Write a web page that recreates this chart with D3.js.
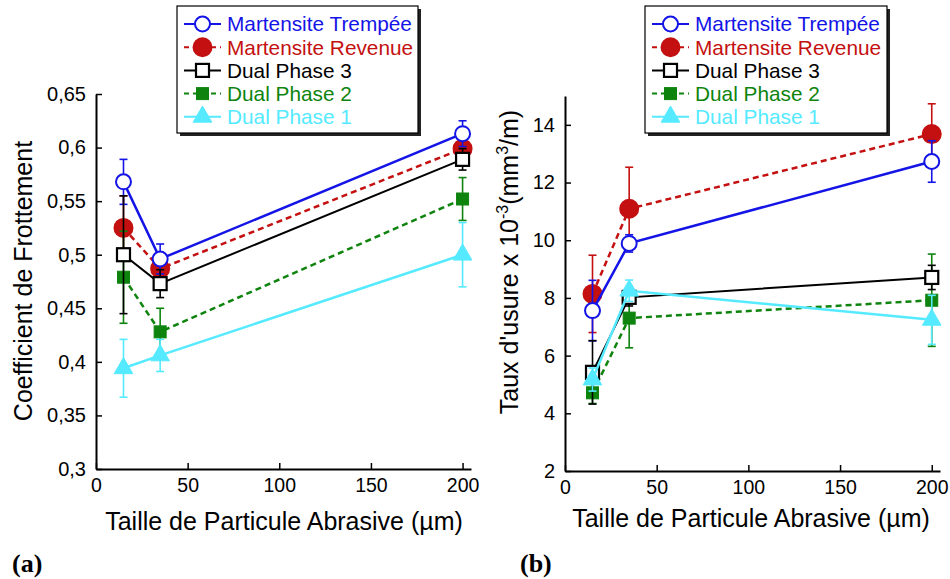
<!DOCTYPE html>
<html>
<head>
<meta charset="utf-8">
<script src="https://cdn.jsdelivr.net/npm/d3@7"></script>
<style>
  body { margin: 0; background: #fff; }
  svg { display: block; font-family: "Liberation Sans", Arial, sans-serif; }
</style>
</head>
<body>
<svg id="chart" width="950" height="579"></svg>
<script>
// particle sizes (x) shared by both panels
var sizes = [15, 35, 200];
var xTicks = [0, 50, 100, 150, 200];

// series names, drawn in this order (last on top)
var names = ["Martensite Trempée", "Martensite Revenue", "Dual Phase 3", "Dual Phase 2", "Dual Phase 1"];
var drawOrder = [1, 3, 0, 2, 4];

// (a) coefficient de frottement
var frictionMT = [0.568, 0.496, 0.613];
var frictionMTErr = [0.021, 0.014, 0.012];
var frictionMR = [0.525, 0.487, 0.599];
var frictionMRErr = [0.030, 0.010, 0.012];
var frictionDP3 = [0.500, 0.473, 0.589];
var frictionDP3Err = [0.055, 0.013, 0.010];
var frictionDP2 = [0.479, 0.428, 0.552];
var frictionDP2Err = [0.043, 0.022, 0.020];
var frictionDP1 = [0.394, 0.406, 0.500];
var frictionDP1Err = [0.027, 0.015, 0.030];
var frictionTicks = [0.3, 0.35, 0.4, 0.45, 0.5, 0.55, 0.6, 0.65];

// (b) taux d'usure x 10^-3 mm3/m
var wearMT = [7.56, 9.89, 12.73];
var wearMTErr = [1.05, 0.30, 0.72];
var wearMR = [8.14, 11.09, 13.68];
var wearMRErr = [1.34, 1.44, 1.05];
var wearDP3 = [5.42, 8.02, 8.71];
var wearDP3Err = [1.10, 0.30, 0.42];
var wearDP2 = [4.71, 7.30, 7.92];
var wearDP2Err = [0.37, 1.03, 1.60];
var wearDP1 = [5.17, 8.25, 7.24];
var wearDP1Err = [0.40, 0.37, 0.85];
var wearTicks = [2, 4, 6, 8, 10, 12, 14];

// look of each series
var styles = [
  { color: "#1414e6", dash: null, width: 2.5, marker: "circle", fill: "#fff" },
  { color: "#c41010", dash: "6,4", width: 2.5, marker: "circle", fill: "#c41010" },
  { color: "#000000", dash: null, width: 2, marker: "square", fill: "#fff" },
  { color: "#0e840e", dash: "6,4", width: 2.5, marker: "square", fill: "#0e840e" },
  { color: "#55eaff", dash: null, width: 2.5, marker: "triangle", fill: "#55eaff" }
];

var svg = d3.select("#chart");

function buildSeries(vals, errs) {
  return vals.map(function(v, i) {
    return sizes.map(function(s, j) { return { x: s, y: v[j], e: errs[i][j] }; });
  });
}

function drawPanel(p) {
  var g = svg.append("g");
  var x = d3.scaleLinear().domain([0, p.xMax]).range([p.left, p.right]);
  var y = d3.scaleLinear().domain(p.yDomain).range([p.bottom, p.top]);

  // x axis, ticks pointing inward
  var xAxis = g.append("g")
    .attr("transform", "translate(0," + p.bottom + ")")
    .call(d3.axisBottom(x).tickValues(xTicks).tickSize(-6).tickSizeOuter(0).tickPadding(4));
  xAxis.select(".domain").attr("stroke-width", 2);
  xAxis.selectAll(".tick line").attr("stroke-width", 1.5);
  xAxis.selectAll(".tick text")
    .attr("font-size", 19.5).attr("fill", "#000")
    .attr("font-family", "'Liberation Sans Narrow', 'Liberation Sans', Arial, sans-serif")
    .attr("y", 9).attr("dy", "0.71em");

  // y axis
  var yAxis = g.append("g")
    .attr("transform", "translate(" + p.left + ",0)")
    .call(d3.axisLeft(y).tickValues(p.yTicks).tickSize(-6).tickSizeOuter(0).tickPadding(10)
      .tickFormat(p.fmt));
  yAxis.select(".domain").attr("stroke-width", 2);
  yAxis.selectAll(".tick line").attr("stroke-width", 1.5);
  yAxis.selectAll(".tick text").attr("font-size", 20).attr("fill", "#000");

  var series = buildSeries(p.vals, p.errs);
  var line = d3.line().x(function(d) { return x(d.x); }).y(function(d) { return y(d.y); });

  drawOrder.forEach(function(k) {
    var st = styles[k], data = series[k];
    var sg = g.append("g");

    // error bars
    var eb = sg.selectAll(".err").data(data).enter().append("g")
      .attr("stroke", st.color).attr("stroke-width", 1.6);
    eb.append("line")
      .attr("x1", function(d) { return x(d.x); }).attr("x2", function(d) { return x(d.x); })
      .attr("y1", function(d) { return y(d.y - d.e); }).attr("y2", function(d) { return y(d.y + d.e); });
    eb.append("line")
      .attr("x1", function(d) { return x(d.x) - 4; }).attr("x2", function(d) { return x(d.x) + 4; })
      .attr("y1", function(d) { return y(d.y + d.e); }).attr("y2", function(d) { return y(d.y + d.e); });
    eb.append("line")
      .attr("x1", function(d) { return x(d.x) - 4; }).attr("x2", function(d) { return x(d.x) + 4; })
      .attr("y1", function(d) { return y(d.y - d.e); }).attr("y2", function(d) { return y(d.y - d.e); });

    sg.append("path")
      .datum(data)
      .attr("d", line)
      .attr("fill", "none")
      .attr("stroke", st.color)
      .attr("stroke-width", st.width)
      .attr("stroke-dasharray", st.dash);

    data.forEach(function(d) { drawMarker(sg, st, x(d.x), y(d.y)); });
  });

  // axis titles
  g.append("text")
    .attr("x", p.xTitleX).attr("y", p.xTitleY)
    .attr("text-anchor", "middle").attr("font-size", 25)
    .text("Taille de Particule Abrasive (µm)");

  drawLegend(g, p.legendX, p.legendW);

  g.append("text")
    .attr("x", p.tagX).attr("y", 572)
    .attr("font-family", "'Liberation Serif', 'Times New Roman', serif")
    .attr("font-weight", "bold").attr("font-size", 26)
    .text(p.tag);
  return g;
}

function drawMarker(sel, st, cx, cy) {
  if (st.marker === "circle") {
    var r = st.fill === "#fff" ? 7.5 : 9;
    sel.append("circle").attr("cx", cx).attr("cy", cy).attr("r", r)
      .attr("fill", st.fill).attr("stroke", st.color).attr("stroke-width", 2);
  } else if (st.marker === "square") {
    var s = st.fill === "#fff" ? 13 : 12;
    sel.append("rect").attr("x", cx - s / 2).attr("y", cy - s / 2)
      .attr("width", s).attr("height", s)
      .attr("fill", st.fill).attr("stroke", st.color).attr("stroke-width", st.fill === "#fff" ? 2.2 : 1);
  } else {
    sel.append("path")
      .attr("transform", "translate(" + cx + "," + cy + ")")
      .attr("d", d3.symbol().type(d3.symbolTriangle).size(150)())
      .attr("fill", st.fill).attr("stroke", st.color).attr("stroke-width", 1);
  }
}

function drawLegend(g, lx, lw) {
  var top = 6, h = 127;
  var lg = g.append("g");
  lg.append("rect").attr("x", lx + 3).attr("y", top + 3).attr("width", lw).attr("height", h)
    .attr("fill", "#222");
  lg.append("rect").attr("x", lx).attr("y", top).attr("width", lw).attr("height", h)
    .attr("fill", "#fff").attr("stroke", "#000").attr("stroke-width", 1.2);
  names.forEach(function(n, i) {
    var st = styles[i];
    var cy = 24 + i * 23.2;
    var sx = lx + 7, ex = lx + 44, mx = (sx + ex) / 2;
    lg.append("line").attr("x1", sx).attr("x2", ex).attr("y1", cy).attr("y2", cy)
      .attr("stroke", st.color).attr("stroke-width", 2)
      .attr("stroke-dasharray", st.dash ? "5,4" : null);
    drawMarker(lg, st, mx, cy);
    lg.append("text").attr("x", lx + 50).attr("y", cy)
      .attr("dy", "0.36em").attr("font-size", 20.8).attr("fill", st.color)
      .text(n);
  });
}

var fmtComma = function(d) { return String(d).replace(".", ","); };

drawPanel({
  left: 96, right: 471, top: 94, bottom: 469, xMax: 204.6,
  yDomain: [0.3, 0.65], yTicks: frictionTicks, fmt: fmtComma,
  vals: [frictionMT, frictionMR, frictionDP3, frictionDP2, frictionDP1],
  errs: [frictionMTErr, frictionMRErr, frictionDP3Err, frictionDP2Err, frictionDP1Err],
  xTitleX: 284, xTitleY: 530, legendX: 177, legendW: 241, tag: "(a)", tagX: 12
});

drawPanel({
  left: 565, right: 940, top: 96, bottom: 471, xMax: 204.5,
  yDomain: [2, 15], yTicks: wearTicks, fmt: d3.format("d"),
  vals: [wearMT, wearMR, wearDP3, wearDP2, wearDP1],
  errs: [wearMTErr, wearMRErr, wearDP3Err, wearDP2Err, wearDP1Err],
  xTitleX: 751, xTitleY: 527, legendX: 645, legendW: 242, tag: "(b)", tagX: 520
});

// y axis titles
svg.append("text")
  .attr("transform", "translate(32,281) rotate(-90)")
  .attr("text-anchor", "middle").attr("font-size", 25)
  .text("Coefficient de Frottement");

var yt = svg.append("text")
  .attr("transform", "translate(518,262) rotate(-90)")
  .attr("text-anchor", "middle").attr("font-size", 25);
yt.append("tspan").text("Taux d'usure x 10");
yt.append("tspan").attr("dy", -10).attr("font-size", 16).text("-3");
yt.append("tspan").attr("dy", 10).text("(mm");
yt.append("tspan").attr("dy", -10).attr("font-size", 16).text("3");
yt.append("tspan").attr("dy", 10).text("/m)");
</script>
</body>
</html>
